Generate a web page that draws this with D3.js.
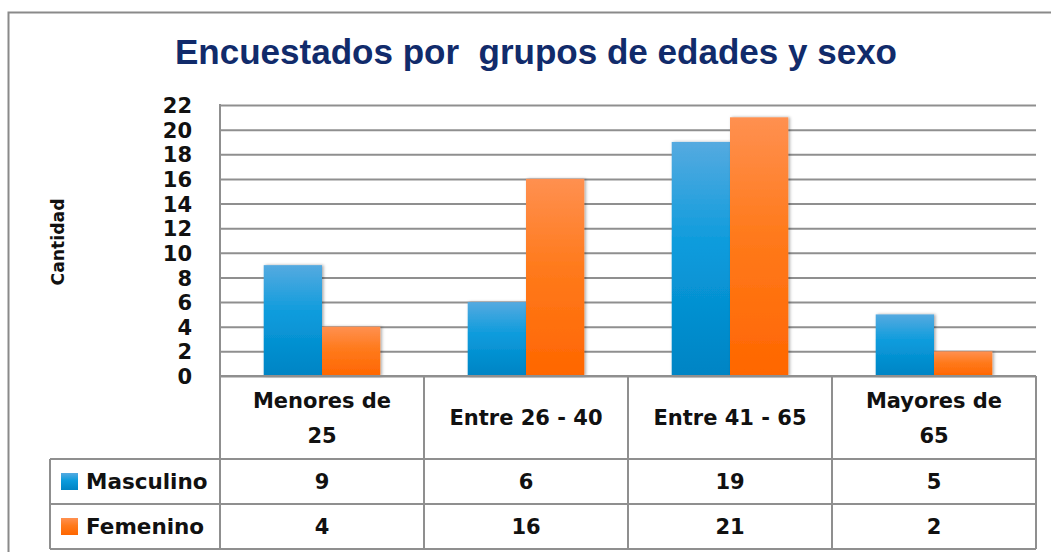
<!DOCTYPE html>
<html>
<head>
<meta charset="utf-8">
<script src="https://cdn.jsdelivr.net/npm/d3@7"></script>
<style>
  body { margin: 0; background: #fff; }
  text { font-family: "DejaVu Sans", sans-serif; }
</style>
</head>
<body>
<div id="chart"></div>
<script>
// Data
var categories = ["Menores de 25", "Entre 26 - 40", "Entre 41 - 65", "Mayores de 65"];
var categoryLines = [["Menores de", "25"], ["Entre 26 - 40"], ["Entre 41 - 65"], ["Mayores de", "65"]];
var seriesNames = ["Masculino", "Femenino"];
var masculino = [9, 6, 19, 5];
var femenino = [4, 16, 21, 2];
var yTicks = [0, 2, 4, 6, 8, 10, 12, 14, 16, 18, 20, 22];

var seriesValues = [masculino, femenino];

// Size and layout
var svgWidth = 1051;
var svgHeight = 552;
var plotLeft = 220, plotRight = 1036, plotTop = 105, plotBottom = 376;
var legendLeft = 50;
var headerBottom = 459, row1Bottom = 504, row2Bottom = 549;
var gridColor = "#8f8f8f";

var svg = d3.select("#chart").append("svg")
            .attr("width", svgWidth)
            .attr("height", svgHeight);

// Gradients + shadow
var defs = svg.append("defs");
var gradStops = {
  Masculino: [["0%", "#55aae0"], ["45%", "#0a9bdc"], ["100%", "#0084c4"]],
  Femenino:  [["0%", "#ff9050"], ["45%", "#ff7a1c"], ["100%", "#ff6600"]]
};
seriesNames.forEach(function(s) {
  var g = defs.append("linearGradient")
              .attr("id", "grad-" + s)
              .attr("x1", 0).attr("y1", 0).attr("x2", 0).attr("y2", 1);
  gradStops[s].forEach(function(st) {
    g.append("stop").attr("offset", st[0]).attr("stop-color", st[1]);
  });
});
var shadow = defs.append("filter").attr("id", "shadow")
                 .attr("x", "-20%").attr("y", "-5%").attr("width", "140%").attr("height", "110%");
shadow.append("feDropShadow")
      .attr("dx", 1.5).attr("dy", 0).attr("stdDeviation", 1.5)
      .attr("flood-color", "#000").attr("flood-opacity", 0.35);

// Outer chart border (right and bottom run off the picture)
svg.append("path")
   .attr("d", "M8.5," + (svgHeight + 5) + "V12.5H" + (svgWidth + 5))
   .attr("fill", "none")
   .attr("stroke", "#8a8a8a")
   .attr("stroke-width", 2);

// Title (double space kept as in the original)
svg.append("text")
   .attr("x", 175)
   .attr("y", 64)
   .attr("textLength", 722)
   .attr("lengthAdjust", "spacingAndGlyphs")
   .attr("font-weight", "bold")
   .attr("font-size", "35px")
   .attr("fill", "#112b6b")
   .style("font-family", "'Liberation Sans', Arial, sans-serif")
   .style("white-space", "pre")
   .text("Encuestados por  grupos de edades y sexo");

// Scales
var x0 = d3.scaleBand().domain(categories).range([plotLeft, plotRight]).padding(0);
var x1 = d3.scaleBand().domain(seriesNames).range([0, x0.bandwidth()])
           .paddingInner(0).paddingOuter(0.75);
var y = d3.scaleLinear().domain([0, 22]).range([plotBottom, plotTop]);

// Y axis with gridlines
var yAxis = svg.append("g")
               .attr("transform", "translate(" + plotLeft + ",0)")
               .call(d3.axisLeft(y)
                       .tickValues(yTicks)
                       .tickSize(-(plotRight - plotLeft))
                       .tickPadding(28)
                       .tickFormat(d3.format("d")));
yAxis.select(".domain").remove();
yAxis.selectAll(".tick line")
     .attr("stroke", gridColor)
     .attr("stroke-width", 2);
yAxis.selectAll(".tick text")
     .attr("font-size", "21px")
     .attr("font-weight", "bold")
     .attr("fill", "#111")
     .attr("dy", "0.36em");

// Left edge of plot area
svg.append("line")
   .attr("x1", plotLeft).attr("x2", plotLeft)
   .attr("y1", plotTop - 1).attr("y2", row2Bottom + 1)
   .attr("stroke", gridColor).attr("stroke-width", 2);

// Y axis title
svg.append("text")
   .attr("transform", "translate(64,242) rotate(-90)")
   .attr("text-anchor", "middle")
   .attr("textLength", 87)
   .attr("lengthAdjust", "spacingAndGlyphs")
   .attr("font-size", "17px")
   .attr("font-weight", "bold")
   .attr("fill", "#111")
   .text("Cantidad");

// Bars
var barData = [];
categories.forEach(function(c, i) {
  seriesNames.forEach(function(s, j) {
    barData.push({ cat: c, series: s, value: seriesValues[j][i] });
  });
});

svg.append("g").selectAll("rect")
   .data(barData)
   .enter()
   .append("rect")
   .attr("x", function(d) { return x0(d.cat) + x1(d.series); })
   .attr("y", function(d) { return y(d.value); })
   .attr("width", x1.bandwidth())
   .attr("height", function(d) { return y(0) - y(d.value); })
   .attr("fill", function(d) { return "url(#grad-" + d.series + ")"; })
   .attr("filter", "url(#shadow)");

// Data table lines
var table = svg.append("g")
               .attr("stroke", gridColor)
               .attr("stroke-width", 2);
table.append("line")
     .attr("x1", plotLeft).attr("x2", plotRight)
     .attr("y1", plotBottom).attr("y2", plotBottom);
[headerBottom, row1Bottom, row2Bottom].forEach(function(yy) {
  table.append("line")
       .attr("x1", legendLeft).attr("x2", plotRight)
       .attr("y1", yy).attr("y2", yy);
});
table.append("line")
     .attr("x1", legendLeft).attr("x2", legendLeft)
     .attr("y1", headerBottom).attr("y2", row2Bottom);
categories.forEach(function(c) {
  table.append("line")
       .attr("x1", x0(c) + x0.bandwidth()).attr("x2", x0(c) + x0.bandwidth())
       .attr("y1", plotBottom).attr("y2", row2Bottom);
});

// Category header labels
var headerMid = (plotBottom + headerBottom) / 2;
categories.forEach(function(c, i) {
  var lines = categoryLines[i];
  var lineH = 35;
  lines.forEach(function(line, k) {
    svg.append("text")
       .attr("x", x0(c) + x0.bandwidth() / 2)
       .attr("y", headerMid + (k - (lines.length - 1) / 2) * lineH)
       .attr("dy", "0.36em")
       .attr("text-anchor", "middle")
       .attr("font-size", "21px")
       .attr("font-weight", "bold")
       .attr("fill", "#111")
       .text(line);
  });
});

// Table rows: legend + values
var rowBounds = [[headerBottom, row1Bottom], [row1Bottom, row2Bottom]];
seriesNames.forEach(function(s, j) {
  var mid = (rowBounds[j][0] + rowBounds[j][1]) / 2;
  svg.append("rect")
     .attr("x", 61).attr("y", mid - 8.5)
     .attr("width", 17).attr("height", 17)
     .attr("fill", "url(#grad-" + s + ")");
  svg.append("text")
     .attr("x", 86).attr("y", mid)
     .attr("dy", "0.36em")
     .attr("font-size", "21.5px")
     .attr("font-weight", "bold")
     .attr("fill", "#111")
     .text(s);
  categories.forEach(function(c, i) {
    svg.append("text")
       .attr("x", x0(c) + x0.bandwidth() / 2)
       .attr("y", mid)
       .attr("dy", "0.36em")
       .attr("text-anchor", "middle")
       .attr("font-size", "21px")
       .attr("font-weight", "bold")
       .attr("fill", "#111")
       .text(seriesValues[j][i]);
  });
});
</script>
</body>
</html>
